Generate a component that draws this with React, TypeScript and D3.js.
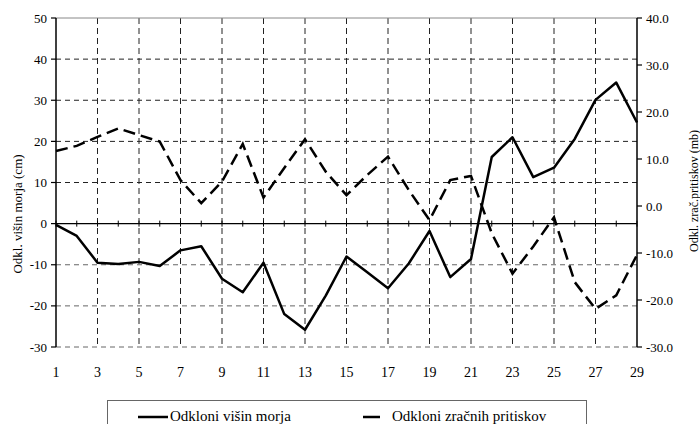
import React from 'react';
import * as d3 from 'd3';

// days of the month
const days = [1, 2, 3, 4, 5, 6, 7, 8, 9, 10, 11, 12, 13, 14, 15, 16, 17, 18, 19, 20, 21, 22, 23, 24, 25, 26, 27, 28, 29];

// Odkloni višin morja (cm) - left axis
const seaLevel = [-0.3, -3, -9.5, -9.8, -9.3, -10.3, -6.5, -5.5, -13.4, -16.7, -9.5, -22, -25.8, -17.5, -8, -11.8, -15.7, -9.7, -1.8, -13, -8.6, 16.2, 21, 11.3, 13.6, 20.6, 30.1, 34.3, 24.6];

// Odkloni zračnih pritiskov (mb) - right axis
const pressure = [11.7, 12.8, 14.7, 16.5, 15.1, 13.7, 5.5, 0.6, 5.2, 13.2, 1.8, 8.1, 14.2, 7.3, 2.3, 6.6, 10.5, 3.4, -3.0, 5.5, 6.4, -5.8, -14.4, -8.6, -2.4, -16.2, -21.9, -19.0, -10.4];

const leftTicks = [-30, -20, -10, 0, 10, 20, 30, 40, 50];
const rightTicks = [-30, -20, -10, 0, 10, 20, 30, 40];
const xLabels = [1, 3, 5, 7, 9, 11, 13, 15, 17, 19, 21, 23, 25, 27, 29];

const seriesNames = ['Odkloni višin morja', 'Odkloni zračnih pritiskov'];

const font = "'Liberation Serif', 'DejaVu Serif', serif";

const App: React.FC = () => {
  React.useEffect(() => {
    document.body.style.margin = '0';
  }, []);

  const width = 700;
  const height = 424;
  const left = 56;
  const right = 637;
  const top = 18;
  const bottom = 347;

  const x = d3.scaleLinear().domain([1, 29]).range([left, right]);
  const yL = d3.scaleLinear().domain([-30, 50]).range([bottom, top]);
  const yR = d3.scaleLinear().domain([-30, 40]).range([bottom, top]);

  const seaLine = d3.line<number>()
    .x((_, i) => x(days[i]))
    .y(d => yL(d));
  const pressLine = d3.line<number>()
    .x((_, i) => x(days[i]))
    .y(d => yR(d));

  const y0 = yL(0);

  return (
    <svg width={width} height={height} style={{ display: 'block', background: '#fff', fontFamily: font }}>
      {/* horizontal grid */}
      {leftTicks.filter(t => t !== 0 && t !== 50).map(t => (
        <line key={'h' + t} x1={left} x2={right} y1={yL(t)} y2={yL(t)}
          stroke={t < 0 ? '#666' : '#222'} strokeWidth={1} strokeDasharray="5,4" />
      ))}
      {/* vertical grid */}
      {xLabels.filter(d => d !== 1 && d !== 29).map(d => (
        <line key={'v' + d} x1={x(d)} x2={x(d)} y1={top} y2={bottom}
          stroke="#222" strokeWidth={1} strokeDasharray="6,4" />
      ))}
      {/* top border */}
      <line x1={left} x2={right} y1={top} y2={top} stroke="#888" strokeWidth={1} />

      {/* left axis */}
      <line x1={left} x2={left} y1={top} y2={bottom} stroke="#000" strokeWidth={1.5} />
      {leftTicks.map(t => (
        <g key={'lt' + t}>
          <line x1={left - 5} x2={left} y1={yL(t)} y2={yL(t)} stroke="#000" strokeWidth={1.2} />
          <text x={left - 9} y={yL(t)} dy="0.35em" textAnchor="end" fontSize={13}>{t}</text>
        </g>
      ))}

      {/* right axis */}
      <line x1={right} x2={right} y1={top} y2={bottom} stroke="#000" strokeWidth={1.5} />
      {rightTicks.map(t => (
        <g key={'rt' + t}>
          <line x1={right} x2={right + 5} y1={yR(t)} y2={yR(t)} stroke="#000" strokeWidth={1.2} />
          <text x={right + 9} y={yR(t)} dy="0.35em" textAnchor="start" fontSize={13}>{t.toFixed(1)}</text>
        </g>
      ))}

      {/* zero line with ticks */}
      <line x1={left} x2={right} y1={y0} y2={y0} stroke="#000" strokeWidth={1.2} />
      {days.map(d => (
        <line key={'xt' + d} x1={x(d)} x2={x(d)} y1={y0 - 3} y2={y0 + 3} stroke="#000" strokeWidth={1} />
      ))}

      {/* x labels */}
      {xLabels.map(d => (
        <text key={'xl' + d} x={x(d)} y={372} dy="0.35em" textAnchor="middle" fontSize={14}>{d}</text>
      ))}

      {/* axis titles */}
      <text transform={`translate(17,214) rotate(-90)`} textAnchor="middle" dy="0.35em" fontSize={13}>
        {'Odkl. višin morja  (cm)'}
      </text>
      <text transform={`translate(694,191) rotate(-90)`} textAnchor="middle" dy="0.35em" fontSize={12}>
        {'Odkl. zrač.pritiskov  (mb)'}
      </text>

      {/* series */}
      <path d={pressLine(pressure) || ''} fill="none" stroke="#000" strokeWidth={2.5}
        strokeDasharray="12,6" />
      <path d={seaLine(seaLevel) || ''} fill="none" stroke="#000" strokeWidth={2.5}
        strokeLinejoin="round" />

      {/* legend */}
      <rect x={107.5} y={400.5} width={479} height={40} fill="#fff" stroke="#666" strokeWidth={1} />
      <line x1={138} x2={168} y1={417} y2={417} stroke="#000" strokeWidth={2.5} />
      <text x={170} y={421} fontSize={15}>{seriesNames[0]}</text>
      <line x1={363} x2={380} y1={417} y2={417} stroke="#000" strokeWidth={2.5} />
      <text x={392} y={421} fontSize={15}>{seriesNames[1]}</text>
    </svg>
  );
};

export default App;
